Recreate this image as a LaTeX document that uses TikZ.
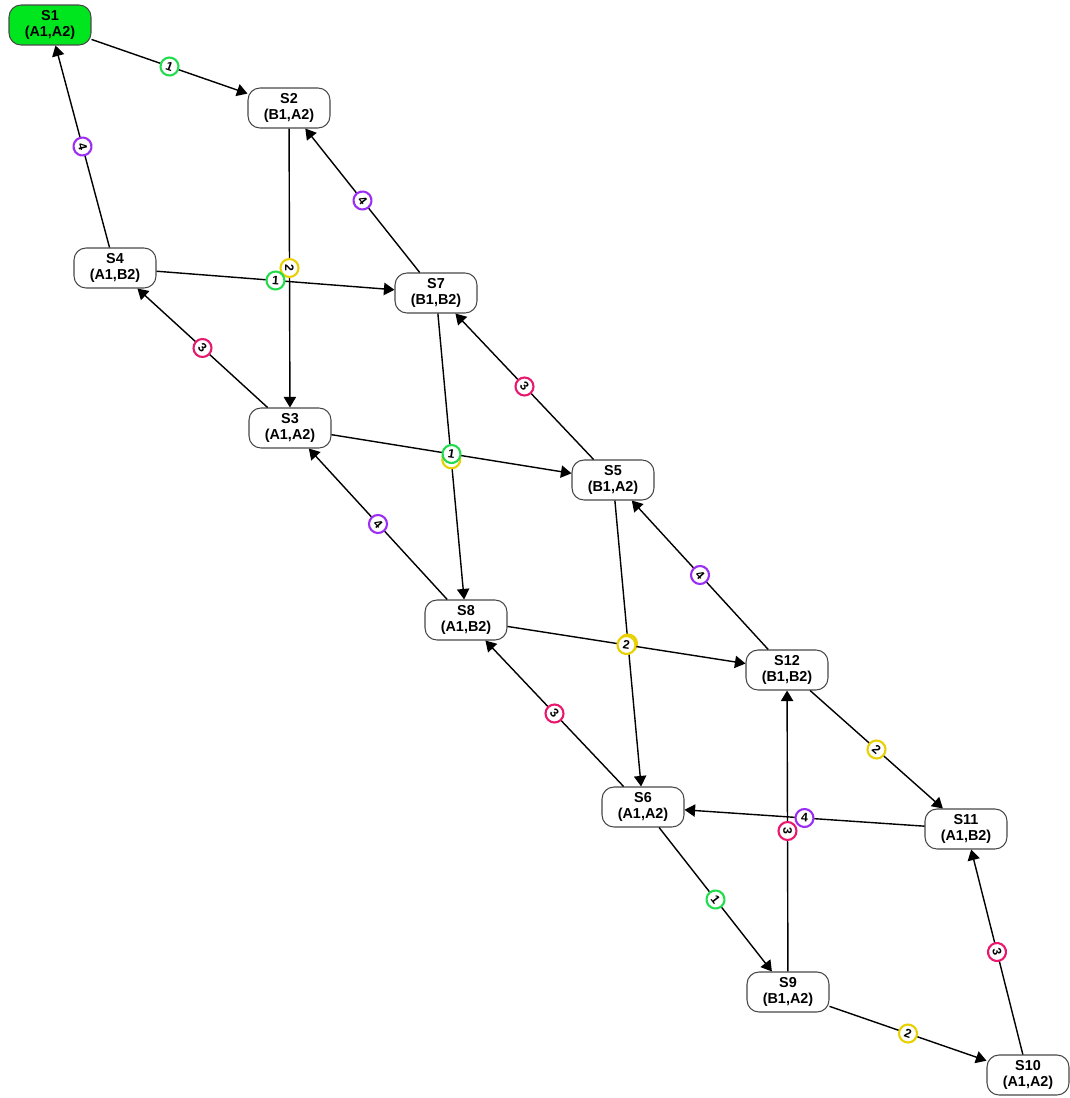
\documentclass[tikz,border=0pt]{standalone}
\usepackage{fontspec}
\setmainfont{Liberation Sans}
\usetikzlibrary{arrows.meta}
\definecolor{ink}{HTML}{1A1A1A}
\definecolor{start}{HTML}{00E61E}
\definecolor{evone}{HTML}{22DC4E}
\definecolor{evtwo}{HTML}{E9D000}
\definecolor{evthree}{HTML}{E8186E}
\definecolor{evfour}{HTML}{9A2EF2}

\begin{document}
\begin{tikzpicture}[x=0.02cm,y=-0.02cm,>={Triangle[length=6pt,width=7pt]},
 stbox/.style={draw=ink!80,line width=0.6pt,rounded corners=0.24cm,fill=white,
  minimum width=1.64cm,minimum height=0.8cm,inner sep=0pt,align=center,
  font=\fontsize{8.2}{9.5}\selectfont\bfseries},
 ring/.style={circle,draw=#1,fill=white,line width=1.2pt,inner sep=0pt,
  minimum size=0.36cm,sloped,font=\fontsize{7}{7}\selectfont\bfseries},
 every path/.style={line width=0.8pt}]
\useasboundingbox (0,0) rectangle (1069,1098);
% states
\node[stbox,fill=start] (s1) at (50,25) {S1\\(A1,A2)};
\node[stbox] (s2) at (289,108) {S2\\(B1,A2)};
\node[stbox] (s4) at (115,268) {S4\\(A1,B2)};
\node[stbox] (s7) at (436,293) {S7\\(B1,B2)};
\node[stbox] (s3) at (290,428) {S3\\(A1,A2)};
\node[stbox] (s5) at (613,480) {S5\\(B1,A2)};
\node[stbox] (s8) at (466,620) {S8\\(A1,B2)};
\node[stbox] (s12) at (787,670) {S12\\(B1,B2)};
\node[stbox] (s6) at (643,807) {S6\\(A1,A2)};
\node[stbox] (s11) at (966,829) {S11\\(A1,B2)};
\node[stbox] (s9) at (788,992) {S9\\(B1,A2)};
\node[stbox] (s10) at (1028,1075) {S10\\(A1,A2)};
% transitions
\draw[->] (s1) -- node[ring=evone] {1} (s2);
\draw[->] (s4) -- node[ring=evfour] {4} (s1);
\draw[->] (s2) -- node[ring=evtwo] {2} (s3);
\draw[->] (s4) -- node[ring=evone] {1} (s7);
\draw[->] (s7) -- node[ring=evfour] {4} (s2);
\draw[->] (s3) -- node[ring=evthree] {3} (s4);
\draw[->] (s5) -- node[ring=evthree] {3} (s7);
\draw[->] (s7) -- node[ring=evtwo,pos=0.51] {2} (s8);
\draw[->] (s3) -- node[ring=evone] {1} (s5);
\draw[->] (s8) -- node[ring=evfour] {4} (s3);
\draw[->] (s12) -- node[ring=evfour] {4} (s5);
\draw[->] (s5) -- node[ring=evtwo] {2} (s6);
\draw[->] (s8) -- node[ring=evtwo] {2} (s12);
\draw[->] (s6) -- node[ring=evthree] {3} (s8);
\draw[->] (s12) -- node[ring=evtwo] {2} (s11);
\draw[->] (s9) -- node[ring=evthree] {3} (s12);
\draw[->] (s11) -- node[ring=evfour] {4} (s6);
\draw[->] (s6) -- node[ring=evone] {1} (s9);
\draw[->] (s9) -- node[ring=evtwo] {2} (s10);
\draw[->] (s10) -- node[ring=evthree] {3} (s11);
\end{tikzpicture}
\end{document}
